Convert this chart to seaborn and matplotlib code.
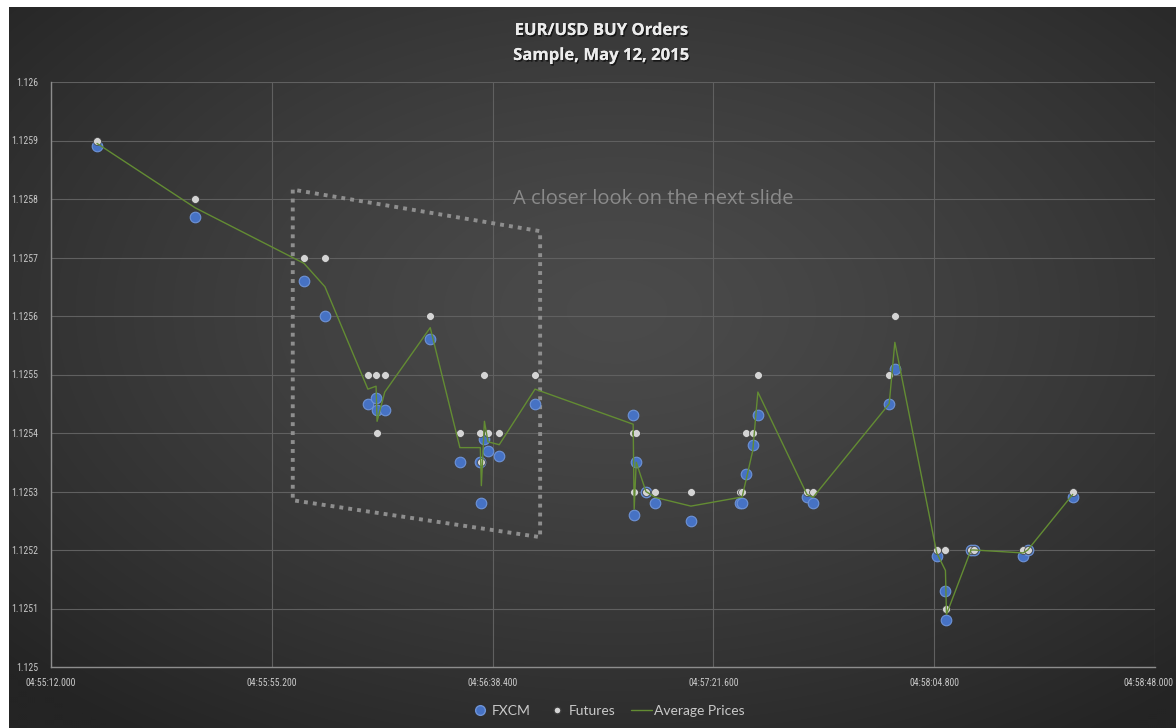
import numpy as np
import pandas as pd
import matplotlib
matplotlib.use("Agg")
import matplotlib.pyplot as plt
import seaborn as sns
from matplotlib import font_manager
from matplotlib.lines import Line2D
from matplotlib import patheffects as pe
from matplotlib import transforms as mtransforms

# Seconds elapsed after 04:55:12.000 for each order
seconds = [9.0, 28.2, 49.5, 53.6, 62.0, 63.6, 63.8, 65.3, 74.2, 80.0,
           84.0, 84.2, 84.8, 85.5, 87.7, 94.7, 113.9, 114.1, 114.5, 116.4,
           118.2, 125.2, 134.8, 135.2, 136.0, 137.3, 138.3, 147.9, 149.1, 164.0,
           165.1, 173.3, 175.0, 175.2, 180.0, 180.6, 190.2, 191.1, 199.9]

fxcm = [1.12589, 1.12577, 1.12566, 1.12560, 1.12545, 1.12546, 1.12544, 1.12544, 1.12556, 1.12535,
        1.12535, 1.12528, 1.12539, 1.12537, 1.12536, 1.12545, 1.12543, 1.12526, 1.12535, 1.12530,
        1.12528, 1.12525, 1.12528, 1.12528, 1.12533, 1.12538, 1.12543, 1.12529, 1.12528, 1.12545,
        1.12551, 1.12519, 1.12513, 1.12508, 1.12520, 1.12520, 1.12519, 1.12520, 1.12529]

futures = [1.12590, 1.12580, 1.12570, 1.12570, 1.12550, 1.12550, 1.12540, 1.12550, 1.12560, 1.12540,
           1.12540, 1.12535, 1.12550, 1.12540, 1.12540, 1.12550, 1.12540, 1.12530, 1.12540, 1.12530,
           1.12530, 1.12530, 1.12530, 1.12530, 1.12540, 1.12540, 1.12550, 1.12530, 1.12530, 1.12550,
           1.12560, 1.12520, 1.12520, 1.12510, 1.12520, 1.12520, 1.12520, 1.12520, 1.12530]

average = [1.125895, 1.125785, 1.12569, 1.12565, 1.125475, 1.12548, 1.12542, 1.12547, 1.12558, 1.125375,
           1.125375, 1.12531, 1.12542, 1.125385, 1.12538, 1.125475, 1.125415, 1.12527, 1.12535, 1.12530,
           1.12529, 1.125275, 1.12529, 1.12529, 1.12532, 1.12537, 1.12547, 1.125295, 1.12529, 1.12545,
           1.125555, 1.125195, 1.125165, 1.12509, 1.12520, 1.12520, 1.125195, 1.12520, 1.125295]

time_ticks = [0.0, 43.2, 86.4, 129.6, 172.8, 216.0]
time_labels = ["04:55:12.000", "04:55:55.200", "04:56:38.400",
               "04:57:21.600", "04:58:04.800", "04:58:48.000"]
price_ticks = [1.1250, 1.1251, 1.1252, 1.1253, 1.1254, 1.1255,
               1.1256, 1.1257, 1.1258, 1.1259, 1.1260]
price_labels = ["1.125", "1.1251", "1.1252", "1.1253", "1.1254", "1.1255",
                "1.1256", "1.1257", "1.1258", "1.1259", "1.126"]

title_lines = ["EUR/USD BUY Orders", "Sample, May 12, 2015"]
note_text = "A closer look on the next slide"

df = pd.DataFrame({"t": seconds, "FXCM": fxcm, "Futures": futures,
                   "Average Prices": average})

BLUE = "#4672c4"
GREY = "#d4d4d4"
GREEN = "#638c33"
TEXT = "#c9c9c9"


def pick_font(names):
    have = {f.name for f in font_manager.fontManager.ttflist}
    for n in names:
        if n in have:
            return n
    return "DejaVu Sans"


narrow = pick_font(["Liberation Sans Narrow", "Roboto Condensed", "Lato"])
label_font = pick_font(["Lato", "Open Sans"])
title_font = pick_font(["Open Sans", "Lato"])

sns.set_theme(style="dark")
plt.rcParams["font.family"] = [label_font, "DejaVu Sans"]

W, H = 1176, 728
fig = plt.figure(figsize=(W / 100, H / 100), dpi=100, facecolor="white")

# Dark slide background with a soft radial highlight
bg = fig.add_axes([9 / W, 0, 1 - 9 / W, 1 - 7 / H])
bg.set_axis_off()
h, w = 360, 584
yy, xx = np.mgrid[0:h, 0:w]
r = np.sqrt(((xx - 0.52 * w) / w) ** 2 + ((yy - 0.42 * h) / h) ** 2)
r = np.clip(r / 0.72, 0, 1)
level = (0x4b - (0x4b - 0x24) * r ** 1.3) / 255.0
bg.imshow(np.dstack([level, level, level]), aspect="auto",
          extent=[0, 1, 0, 1], interpolation="bilinear")
bg.set_xlim(0, 1)
bg.set_ylim(0, 1)

# Plot area
x0, x1, ytop, ybot = 51, 1155, 82, 667
ax = fig.add_axes([x0 / W, 1 - ybot / H, (x1 - x0) / W, (ybot - ytop) / H])
ax.set_facecolor("none")
ax.set_zorder(2)

sns.scatterplot(data=df, x="t", y="FXCM", ax=ax, color=BLUE, s=58,
                edgecolor="#6e93d6", linewidth=0.8, zorder=3, legend=False)
sns.scatterplot(data=df, x="t", y="Futures", ax=ax, color=GREY, s=32,
                edgecolor="#3a3a3a", linewidth=0.5, zorder=4, legend=False)
sns.lineplot(data=df, x="t", y="Average Prices", ax=ax, sort=False,
             estimator=None, color=GREEN, linewidth=1.0, zorder=5, legend=False)

ax.set_xlim(time_ticks[0], time_ticks[-1])
ax.set_ylim(price_ticks[0], price_ticks[-1])
ax.set_xticks(time_ticks)
ax.set_xticklabels(time_labels)
ax.set_yticks(price_ticks)
ax.set_yticklabels(price_labels)
ax.set_xlabel("")
ax.set_ylabel("")
ax.grid(True, color="#606060", linewidth=0.8)
ax.set_axisbelow(True)
for side in ["top", "right"]:
    ax.spines[side].set_visible(False)
for side in ["left", "bottom"]:
    ax.spines[side].set_color("#8d8d8d")
    ax.spines[side].set_linewidth(1.0)
ax.tick_params(axis="both", length=0, labelcolor=TEXT, labelsize=7)
ax.tick_params(axis="x", pad=8)
ax.tick_params(axis="y", pad=9)
for lab in ax.get_xticklabels() + ax.get_yticklabels():
    lab.set_family([narrow, "DejaVu Sans"])

# The last time label sits at the figure's right edge: right-align it there
last = ax.get_xticklabels()[-1]
last.set_horizontalalignment("right")
last.set_transform(last.get_transform() +
                   mtransforms.ScaledTranslation(19 / 100, 0, fig.dpi_scale_trans))

# Dotted call-out frame around the detailed region
frame_t = [47.3, 47.3, 95.7, 95.7, 47.3]
frame_p = [1.125816, 1.125285, 1.125222, 1.125745, 1.125816]
ax.plot(frame_t, frame_p, color="#8e8e8e", linewidth=2.8,
        linestyle=(0, (1.0, 1.3)), solid_capstyle="butt", zorder=2)

fig.text(653 / W, 1 - 199 / H, note_text, color="#8a8a8a", fontsize=14.5,
         family=[title_font, "DejaVu Sans"], ha="center", va="center")

# Title
shadow = [pe.withSimplePatchShadow(offset=(1, -1.2), shadow_rgbFace="black", alpha=0.6),
          pe.Normal()]
for text, ypix in zip(title_lines, [30, 55]):
    fig.text(601 / W, 1 - ypix / H, text, color="#ececec", fontsize=12,
             fontweight="bold", family=[title_font, "DejaVu Sans"],
             ha="center", va="center", path_effects=shadow)

# Legend
handles = [
    Line2D([], [], linestyle="none", marker="o", markersize=7,
           markerfacecolor=BLUE, markeredgecolor="#6e93d6"),
    Line2D([], [], linestyle="none", marker="o", markersize=5,
           markerfacecolor=GREY, markeredgecolor="#3a3a3a"),
    Line2D([], [], color=GREEN, linewidth=1.0),
]
leg = fig.legend(handles, ["FXCM", "Futures", "Average Prices"],
                 loc="center", bbox_to_anchor=(607 / W, 1 - 711 / H), ncol=3,
                 frameon=False, fontsize=10, handlelength=1.5,
                 handletextpad=0.15, columnspacing=1.1, labelcolor=TEXT)

fig.savefig("out.png", dpi=100, facecolor=fig.get_facecolor())
